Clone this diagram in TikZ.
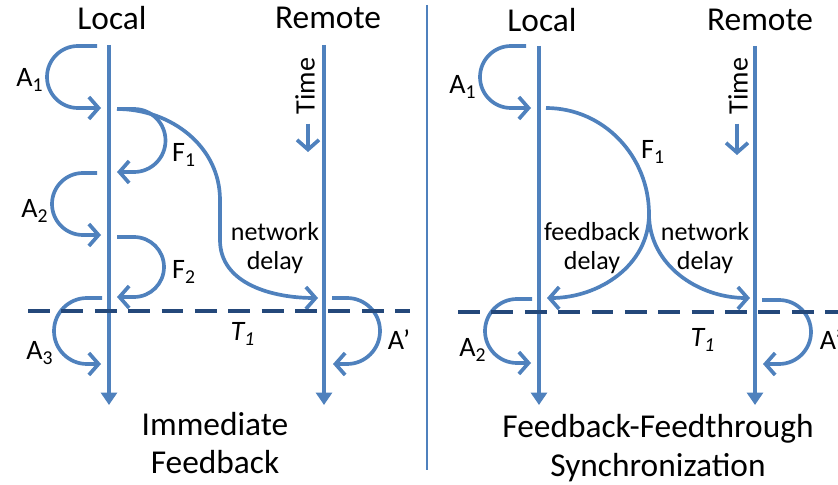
\documentclass[tikz,border=0pt]{standalone}
\usepackage{fontspec}
\setmainfont{Carlito}
\usetikzlibrary{arrows.meta}
\definecolor{lineblue}{RGB}{79,129,189}
\definecolor{dashblue}{RGB}{36,72,122}
\begin{document}
\begin{tikzpicture}[x=0.02cm,y=0.02cm,
    tl/.style={lineblue,line width=2.2pt,-{Triangle[length=7pt,width=9pt]}},
    hop/.style={lineblue,line width=2.1pt,-{Straight Barb[length=5.5pt,width=12.5pt]}},
    sync/.style={dashblue,line width=2.3pt,dash pattern=on 12.5pt off 6.5pt},
    head/.style={font=\fontsize{19}{22}\selectfont},
    lbl/.style={font=\fontsize{16}{19}\selectfont},
    small/.style={font=\fontsize{14.8}{16.5}\selectfont,align=center},
    title/.style={font=\fontsize{19}{22}\selectfont,align=center}]
  \useasboundingbox (0,0) rectangle (838,484);

  % left: immediate feedback
  \node[head] (locL) at (112,466) {Local};
  \node[head] (remL) at (328,466) {Remote};
  \coordinate (locLt) at (109,439);
  \coordinate (locLb) at (109,79);
  \coordinate (remLt) at (324,439);
  \coordinate (remLb) at (324,79);
  \draw[tl] (locLt) -- (locLb);
  \draw[tl] (remLt) -- (remLb);

  \coordinate (a1Ls) at (97,438);
  \coordinate (a1Le) at (101,376);
  \coordinate (f1Ls) at (117,375);
  \coordinate (f1Le) at (117,312);
  \coordinate (a2Ls) at (97,311);
  \coordinate (a2Le) at (101,249);
  \coordinate (f2Ls) at (117,247);
  \coordinate (f2Le) at (117,187);
  \coordinate (a3Ls) at (102,186);
  \coordinate (a3Le) at (101,120);
  \coordinate (netL) at (318,186);
  \coordinate (apLs) at (332,186);
  \coordinate (apLe) at (333,120);

  \draw[hop] (a1Ls) -- ++(-19,0) arc (90:270:31) -- (a1Le);
  \draw[hop] (f1Ls) -- ++(17,0) arc (90:-90:31.5) -- (f1Le);
  \draw[hop] (a2Ls) -- ++(-14,0) arc (90:270:31) -- (a2Le);
  \draw[hop] (f2Ls) -- ++(17,0) arc (90:-90:30) -- (f2Le);
  \draw[hop] (a3Ls) -- ++(-15,0) arc (90:270:33) -- (a3Le);
  \draw[hop] (f1Ls) to[out=0,in=90] (220,284) -- (220,244) to[out=-90,in=180] (netL);
  \draw[hop] (apLs) -- ++(15,0) arc (90:-90:33) -- (apLe);

  \node[lbl] (a1L) at (30,404) {A\textsubscript{1}};
  \node[lbl] (f1L) at (184,329) {F\textsubscript{1}};
  \node[lbl] (a2L) at (35,273) {A\textsubscript{2}};
  \node[lbl] (f2L) at (184,212) {F\textsubscript{2}};
  \node[lbl] (a3L) at (40,131) {A\textsubscript{3}};
  \node[lbl] (apL) at (399,144) {A’};
  \node[small] (ndL) at (275,236) {network\\delay};

  \coordinate (syncLa) at (28,173);
  \coordinate (syncLb) at (410,173);
  \draw[sync] (syncLa) -- (syncLb);
  \node[lbl] (t1L) at (243,150) {\textit{T\textsubscript{1}}};

  \node[lbl,rotate=90] (timeL) at (305,398) {Time};
  \coordinate (timeLe) at (308,332);
  \draw[hop] (timeL.west -| timeLe) ++(0,-3) -- (timeLe);

  \node[title] (capL) at (215,41) {Immediate\\Feedback};

  % divider
  \coordinate (divT) at (427,479);
  \coordinate (divB) at (427,14);
  \draw[lineblue,line width=0.8pt] (divT) -- (divB);

  % right: feedback-feedthrough
  \node[head] (locR) at (542,464) {Local};
  \node[head] (remR) at (760,464) {Remote};
  \coordinate (locRt) at (539,438);
  \coordinate (locRb) at (539,79);
  \coordinate (remRt) at (755,438);
  \coordinate (remRb) at (755,79);
  \draw[tl] (locRt) -- (locRb);
  \draw[tl] (remRt) -- (remRb);

  \coordinate (a1Rs) at (526,438);
  \coordinate (a1Re) at (531,376);
  \coordinate (f1Rs) at (546,376);
  \coordinate (split) at (649,270);
  \coordinate (fbR) at (547,186);
  \coordinate (netR) at (750,186);
  \coordinate (a2Rs) at (532,185);
  \coordinate (a2Re) at (531,121);
  \coordinate (apRs) at (762,184);
  \coordinate (apRe) at (763,120);

  \draw[hop] (a1Rs) -- ++(-15,0) arc (90:270:31) -- (a1Re);
  \draw[lineblue,line width=2.1pt] (f1Rs) to[out=0,in=90] (split);
  \draw[hop] (split) to[out=-90,in=0] (fbR);
  \draw[hop] (split) to[out=-90,in=180] (netR);
  \draw[hop] (a2Rs) -- ++(-15,0) arc (90:270:32) -- (a2Re);
  \draw[hop] (apRs) -- ++(17,0) arc (90:-90:32) -- (apRe);

  \node[lbl] (a1R) at (463,397) {A\textsubscript{1}};
  \node[lbl] (f1R) at (653,332) {F\textsubscript{1}};
  \node[lbl] (a2R) at (473,134) {A\textsubscript{2}};
  \node[lbl] (apR) at (831,144) {A’};
  \node[small] (fdR) at (592,236) {feedback\\delay};
  \node[small] (ndR) at (705,236) {network\\delay};

  \coordinate (syncRa) at (458,172);
  \coordinate (syncRb) at (838,172);
  \draw[sync] (syncRa) -- (syncRb);
  \node[lbl] (t1R) at (703,144) {\textit{T\textsubscript{1}}};

  \node[lbl,rotate=90] (timeR) at (738,398) {Time};
  \coordinate (timeRe) at (737,329);
  \draw[hop] (timeR.west -| timeRe) ++(0,-3) -- (timeRe);

  \node[title] (capR) at (658,36) {Feedback-Feedthrough\\Synchronization};
\end{tikzpicture}
\end{document}
